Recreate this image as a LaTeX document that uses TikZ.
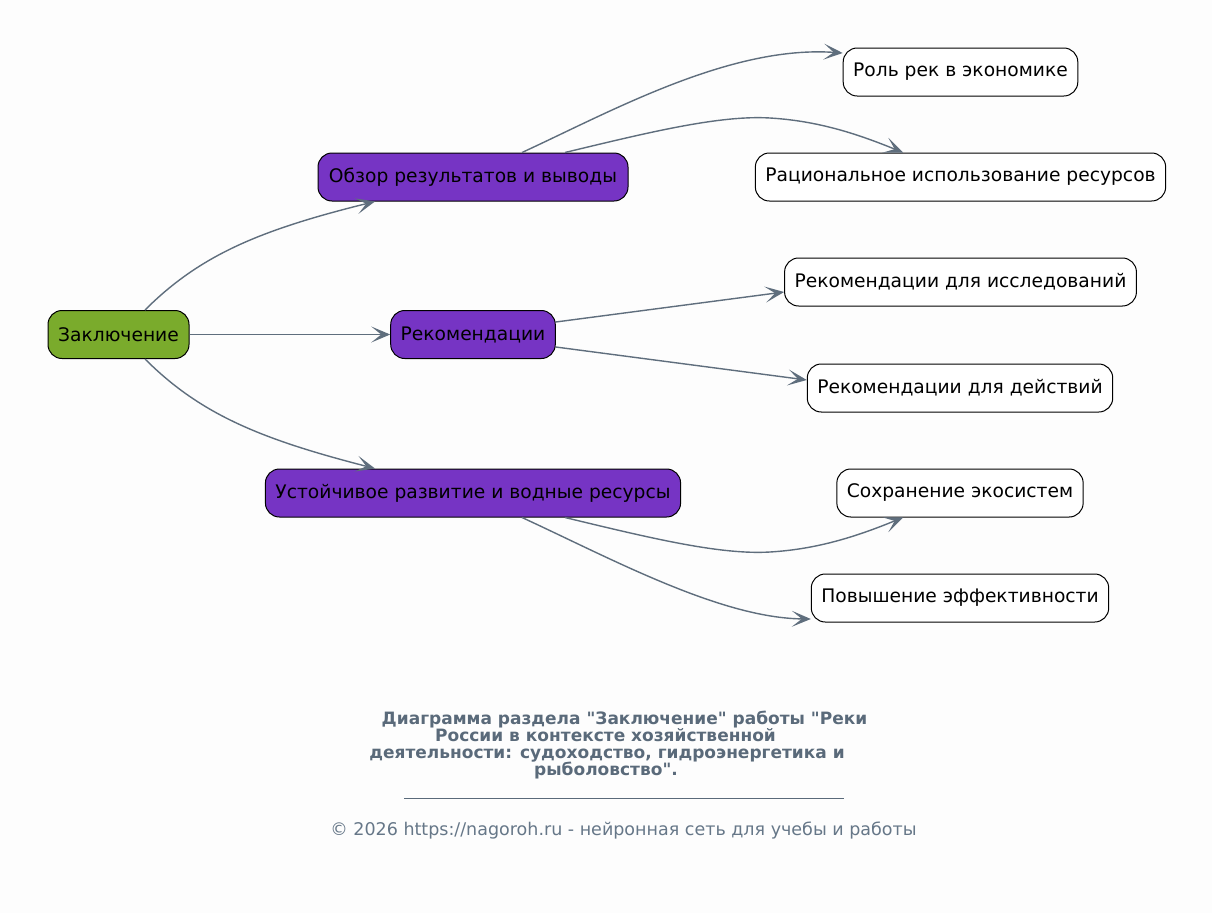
\documentclass[tikz,border=0pt]{standalone}
\usepackage{fontspec}
\setmainfont{DejaVu Sans}
\usetikzlibrary{arrows.meta}
\newcommand\sq{\XeTeXglyph\XeTeXglyphindex "quotedbl"\relax}
\definecolor{bgc}{HTML}{FDFDFD}
\definecolor{rootc}{HTML}{7AAB2C}
\definecolor{midc}{HTML}{7634C4}
\definecolor{edgec}{HTML}{5F6E7D}
\definecolor{titlec}{HTML}{5A6A7A}
\definecolor{footc}{HTML}{667788}
\tikzset{
  box/.style={draw=black, line width=1pt, rounded corners=14pt, minimum height=48pt,
    inner xsep=10pt, font=\fontsize{18.67}{22}\selectfont, text=black},
  rootbox/.style={box, fill=rootc},
  midbox/.style={box, fill=midc},
  leafbox/.style={box, fill=white},
  conn/.style={draw=edgec, line width=1.4pt, -{Stealth[length=19pt,width=16pt,inset=10pt]}},
  ttl/.style={text=titlec, font=\fontsize{17}{18}\selectfont\bfseries, inner sep=0pt, anchor=base},
  foot/.style={text=footc, font=\fontsize{17.5}{19}\selectfont, inner sep=0pt, anchor=base}
}
\begin{document}
\begin{tikzpicture}[x=1pt,y=-1pt]
\path[use as bounding box, fill=bgc] (0,0) rectangle (1212,913);

\node[rootbox, minimum width=141pt] (z) at (118.5,334.5) {Заключение};
\node[midbox, minimum width=310pt] (o) at (473,177) {Обзор результатов и выводы};
\node[midbox, minimum width=164pt] (rk) at (473,334.5) {Рекомендации};
\node[midbox, minimum width=414pt] (u) at (473,493) {Устойчивое развитие и водные ресурсы};

\node[leafbox, minimum width=233pt] (r) at (960.5,72) {Роль рек в экономике};
\node[leafbox, minimum width=407pt] (ra) at (960.5,177) {Рациональное использование ресурсов};
\node[leafbox, minimum width=349pt] (ri) at (960.5,282) {Рекомендации для исследований};
\node[leafbox, minimum width=304pt] (rd) at (960,388) {Рекомендации для действий};
\node[leafbox, minimum width=244pt] (s) at (960,493) {Сохранение экосистем};
\node[leafbox, minimum width=296pt] (p) at (960,598) {Повышение эффективности};

\draw[conn] ([xshift=26.5pt]z.north) .. controls (200,255) and (260,230) .. ([xshift=-98pt]o.south);
\draw[conn] (z.east) -- (rk.west);
\draw[conn] ([xshift=26.5pt]z.south) .. controls (200,414) and (260,439) .. ([xshift=-98pt]u.north);

\draw[conn] ([xshift=49pt]o.north) .. controls (610,112) and (730,45) .. ([yshift=19pt]r.west);
\draw[conn] ([xshift=92pt]o.north) .. controls (650,132) and (720,115) .. (770,118) .. controls (820,121) and (860,135) .. ([xshift=-57.5pt]ra.north);

\draw[conn] ([yshift=12.5pt]rk.east) -- ([yshift=-10pt]ri.west);
\draw[conn] ([yshift=-12.5pt]rk.east) -- ([yshift=8pt]rd.west);

\draw[conn] ([xshift=92pt]u.south) .. controls (650,538) and (720,555) .. (770,552) .. controls (820,549) and (860,535) .. ([xshift=-57pt]s.south);
\draw[conn] ([xshift=49pt]u.south) .. controls (610,558) and (720,618) .. ([yshift=-21pt]p.west);

\node[ttl] (t1) at (624.5,724) {Диаграмма раздела \sq Заключение\sq{} работы \sq Реки};
\node[ttl] (t2) at (605.5,741) {России в контексте хозяйственной};
\node[ttl] (t3) at (607,758) {деятельности: судоходство, гидроэнергетика и};
\node[ttl] (t4) at (606,775) {рыболовство\sq.};
\coordinate (sepL) at (404,798);
\coordinate (sepR) at (844,798);
\draw[draw=titlec, line width=0.8pt] (sepL) -- (sepR);
\node[foot] (f) at (623.5,835) {© 2026 https://nagoroh.ru - нейронная сеть для учебы и работы};
\end{tikzpicture}
\end{document}
